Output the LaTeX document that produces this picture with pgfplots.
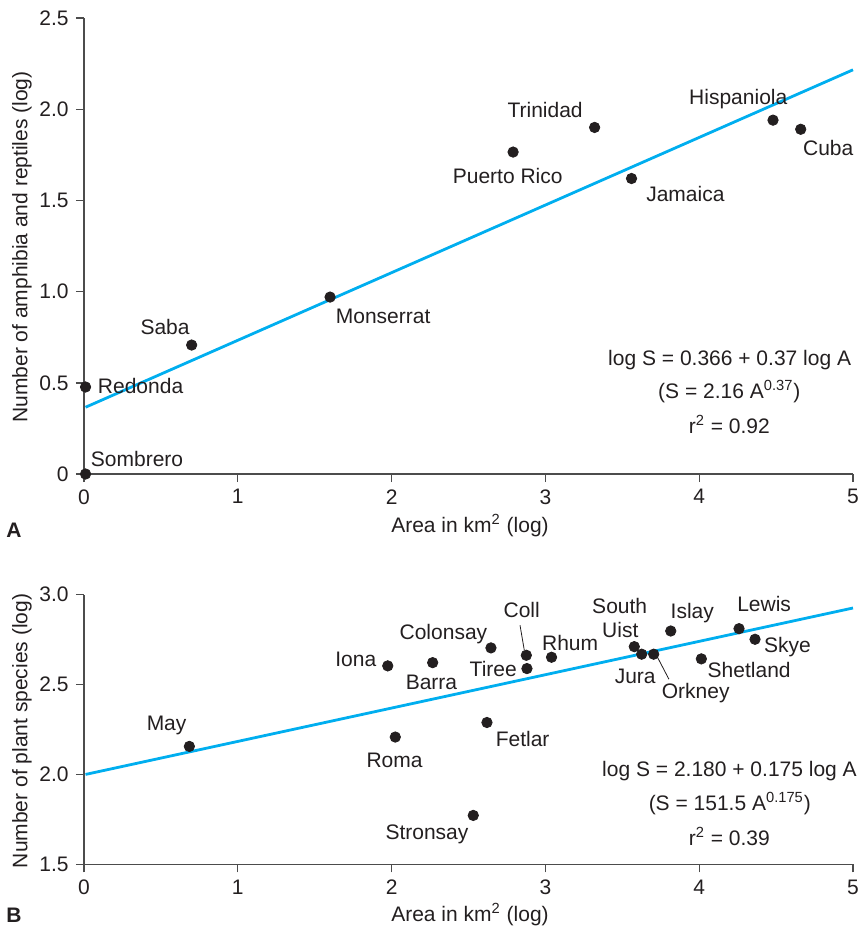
\documentclass[border=0pt]{standalone}
\usepackage{pgfplots}
\pgfplotsset{compat=1.18}
\usepackage{fontspec}
\setmainfont{Liberation Sans}
\definecolor{txt}{HTML}{231F20}
\definecolor{fitc}{HTML}{00AEEF}
\pgfplotsset{
  panel/.style={
    scale only axis, width=384.5pt, xmin=0, xmax=5,
    xtick={0,1,2,3,4,5}, xticklabels={0,1,2,3,4,5},
    axis x line*=bottom, axis y line*=left,
    tick align=outside, major tick length=4pt,
    axis line style={-, draw=black!70, line width=0.7pt},
    major tick style={draw=black!70, line width=0.7pt},
    tick label style={font=\fontsize{10.5}{12}\selectfont, text=txt},
    clip=false, anchor=south west,
  },
  dots/.style={only marks, mark=*, mark size=2.6pt, mark options={fill=txt, draw=txt}},
  fit/.style={fitc, line width=1.4pt, no marks},
}
\tikzset{lab/.style={text=txt, font=\fontsize{10.5}{12}\selectfont, inner sep=0pt}}
\begin{document}
\fontsize{10.5}{12.6}\selectfont
\begin{tikzpicture}[x=1pt,y=1pt]
\path[use as bounding box] (-42pt,-229pt) rectangle (387.5pt,237pt);
% ---------- Panel A ----------
\begin{axis}[panel, at={(0pt,0pt)}, height=228pt, ymin=0, ymax=2.5,
  ytick={0,0.5,1,1.5,2,2.5}, yticklabels={0,0.5,1.0,1.5,2.0,2.5}]
\addplot[fit] coordinates {(0.01,0.366) (5,2.216)};
\addplot[dots] coordinates {
 (0.01,0.00) (0.01,0.477) (0.70,0.707) (1.60,0.97)
 (2.79,1.765) (3.32,1.90) (3.56,1.62) (4.48,1.94) (4.66,1.89)};
\node[lab] at (axis cs:0.345,0.084) {Sombrero};
\node[lab] at (axis cs:0.368,0.482) {Redonda};
\node[lab] at (axis cs:0.527,0.806) {Saba};
\node[lab] at (axis cs:1.945,0.863) {Monserrat};
\node[lab] at (axis cs:2.998,1.995) {Trinidad};
\node[lab] at (axis cs:2.755,1.634) {Puerto Rico};
\node[lab] at (axis cs:3.91,1.535) {Jamaica};
\node[lab] at (axis cs:4.254,2.054) {Hispaniola};
\node[lab] at (axis cs:4.839,1.79) {Cuba};
\node[lab] at (axis cs:4.198,0.627) {log S = 0.366 + 0.37 log A};
\node[lab] at (axis cs:4.196,0.453) {(S = 2.16 A\textsuperscript{0.37})};
\node[lab] at (axis cs:4.196,0.274) {r\textsuperscript{2} = 0.92};
\end{axis}
% ---------- Panel B ----------
\begin{axis}[panel, at={(0pt,-195.15pt)}, height=134.8pt, ymin=1.5, ymax=3.0,
  ytick={1.5,2,2.5,3}, yticklabels={1.5,2.0,2.5,3.0}]
\addplot[fit] coordinates {(0.01,2.0) (5,2.926)};
\draw[txt, line width=0.4pt] (axis cs:2.835,2.83) -- (axis cs:2.863,2.69);
\draw[txt, line width=0.4pt] (axis cs:3.730,2.65) -- (axis cs:3.803,2.53);
\addplot[dots] coordinates {
 (0.685,2.156) (1.975,2.604) (2.024,2.208) (2.267,2.622) (2.646,2.704)
 (2.876,2.663) (2.880,2.589) (3.04,2.652) (2.62,2.289) (2.531,1.772)
 (3.578,2.711) (3.626,2.669) (3.704,2.669) (3.815,2.798) (4.259,2.811)
 (4.363,2.752) (4.014,2.643)};
\node[lab] at (axis cs:0.537,2.27) {May};
\node[lab] at (axis cs:1.767,2.642) {Iona};
\node[lab] at (axis cs:2.019,2.079) {Roma};
\node[lab] at (axis cs:2.259,2.514) {Barra};
\node[lab] at (axis cs:2.337,2.779) {Colonsay};
\node[lab] at (axis cs:2.846,2.913) {Coll};
\node[lab] at (axis cs:2.661,2.587) {Tiree};
\node[lab] at (axis cs:3.161,2.733) {Rhum};
\node[lab] at (axis cs:2.852,2.196) {Fetlar};
\node[lab] at (axis cs:2.23,1.668) {Stronsay};
\node[lab] at (axis cs:3.483,2.935) {South};
\node[lab] at (axis cs:3.487,2.802) {Uist};
\node[lab] at (axis cs:3.584,2.546) {Jura};
\node[lab] at (axis cs:3.977,2.45) {Orkney};
\node[lab] at (axis cs:3.955,2.898) {Islay};
\node[lab] at (axis cs:4.422,2.95) {Lewis};
\node[lab] at (axis cs:4.574,2.706) {Skye};
\node[lab] at (axis cs:4.325,2.583) {Shetland};
\node[lab] at (axis cs:4.197,2.018) {log S = 2.180 + 0.175 log A};
\node[lab] at (axis cs:4.199,1.839) {(S = 151.5 A\textsuperscript{0.175})};
\node[lab] at (axis cs:4.196,1.657) {r\textsuperscript{2} = 0.39};
\end{axis}
% ---------- outer labels ----------
\node[lab] at (193pt,-26pt) {Area in km\textsuperscript{2} (log)};
\node[lab, rotate=90] at (-31pt,113.5pt) {Number of amphibia and reptiles (log)};
\node[lab, font=\fontsize{10.5}{12}\selectfont\bfseries] at (-35pt,-28pt) {A};
\node[lab] at (193pt,-220.5pt) {Area in km\textsuperscript{2} (log)};
\node[lab, rotate=90] at (-31pt,-128.5pt) {Number of plant species (log)};
\node[lab, font=\fontsize{10.5}{12}\selectfont\bfseries] at (-35pt,-220.5pt) {B};
\end{tikzpicture}
\end{document}
